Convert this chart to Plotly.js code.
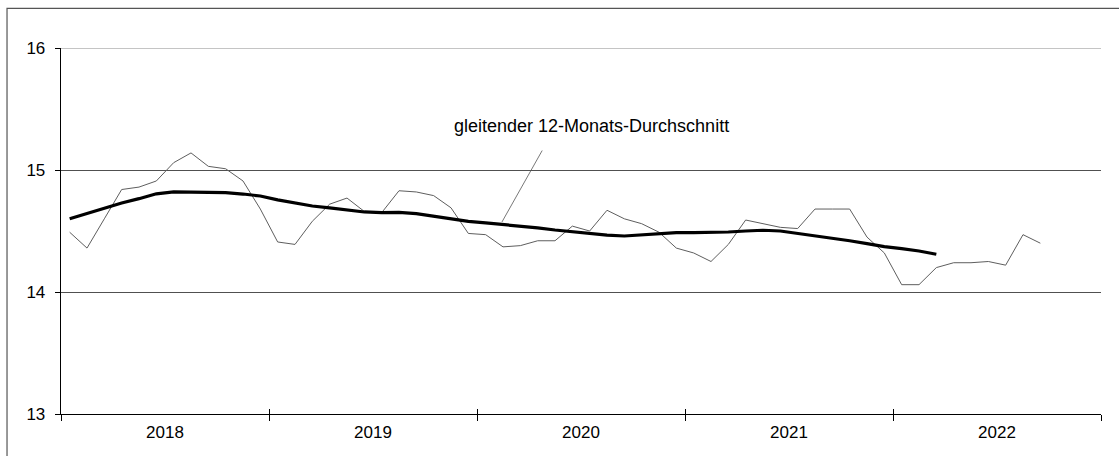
<!DOCTYPE html>
<html>
<head>
<meta charset="utf-8">
<script src="https://cdn.plot.ly/plotly-3.0.1.min.js"></script>
<style>
html,body{margin:0;padding:0;background:#fff;}
#chart{width:1119px;height:456px;}
</style>
</head>
<body>
<div id="chart"></div>
<script>
// Years shown on the category axis
const years = ["2018", "2019", "2020", "2021", "2022"];
// Monthly values Jan 2018 .. Sep 2022
const monthlyValues = [
  14.49, 14.36, 14.60, 14.84, 14.86, 14.91, 15.06, 15.14, 15.03, 15.01, 14.91, 14.68,
  14.41, 14.39, 14.58, 14.72, 14.77, 14.66, 14.65, 14.83, 14.82, 14.79, 14.69, 14.48,
  14.47, 14.37, 14.38, 14.42, 14.42, 14.54, 14.50, 14.67, 14.60, 14.56, 14.49, 14.36,
  14.32, 14.25, 14.39, 14.59, 14.56, 14.53, 14.52, 14.68, 14.68, 14.68, 14.45, 14.32,
  14.06, 14.06, 14.20, 14.24, 14.24, 14.25, 14.22, 14.47, 14.40
];
// Moving 12-month average, Jan 2018 .. Mar 2022
const movingAverage = [
  14.60, 14.645, 14.69, 14.73, 14.765, 14.805, 14.82, 14.817, 14.82, 14.814, 14.803, 14.787,
  14.755, 14.727, 14.705, 14.689, 14.672, 14.656, 14.65, 14.653, 14.642, 14.623, 14.598, 14.579,
  14.567, 14.555, 14.541, 14.525, 14.508, 14.494, 14.481, 14.467, 14.459, 14.47, 14.481, 14.486,
  14.486, 14.486, 14.492, 14.50, 14.506, 14.50, 14.481, 14.462, 14.445, 14.42, 14.396, 14.372,
  14.355, 14.336, 14.309
];
const yTicks = [13, 14, 15, 16];
const annotationText = "gleitender 12-Monats-Durchschnitt";

const monthsPerYear = 12;
const xMonthly = monthlyValues.map((_, i) => i);
const xMA = movingAverage.map((_, i) => i);
const yearCenters = years.map((_, i) => i * monthsPerYear + (monthsPerYear - 1) / 2);
const boundaries = [];
for (let i = 0; i <= years.length; i++) boundaries.push(i * monthsPerYear - 0.5);
const xRange = [-0.5, years.length * monthsPerYear - 0.5];
const yRange = [yTicks[0], yTicks[yTicks.length - 1]];

const FONT = "Liberation Sans, Arial, sans-serif";

const traces = [
  {x: xMonthly, y: monthlyValues, type: "scatter", mode: "lines",
   line: {color: "#5e5e5e", width: 1}, showlegend: false, hoverinfo: "skip"},
  {x: xMA, y: movingAverage, type: "scatter", mode: "lines",
   line: {color: "#000000", width: 3.2}, showlegend: false, hoverinfo: "skip"},
  {x: [], y: [], xaxis: "x2", yaxis: "y", type: "scatter", mode: "lines", showlegend: false},
  {x: [], y: [], xaxis: "x3", yaxis: "y", type: "scatter", mode: "lines", showlegend: false}
];

const layout = {
  width: 1119, height: 456,
  margin: {l: 61, r: 18, t: 48, b: 42, pad: 0},
  paper_bgcolor: "#ffffff", plot_bgcolor: "#ffffff",
  font: {family: FONT, size: 17, color: "#000000"},
  showlegend: false,
  xaxis: {
    range: xRange, tickvals: yearCenters, ticktext: years,
    ticks: "", showgrid: false, zeroline: false,
    showline: true, linecolor: "#000000", linewidth: 1.3,
    ticklabelstandoff: 2, tickfont: {family: FONT, size: 17, color: "#000"},
    fixedrange: true
  },
  xaxis2: {
    overlaying: "x", anchor: "y", side: "bottom", range: xRange,
    tickvals: boundaries, ticks: "outside", ticklen: 6, tickwidth: 1, tickcolor: "#000",
    showticklabels: false, showgrid: false, zeroline: false, showline: false
  },
  xaxis3: {
    overlaying: "x", anchor: "y", side: "bottom", range: xRange,
    tickvals: boundaries, ticks: "inside", ticklen: 5, tickwidth: 1, tickcolor: "#000",
    showticklabels: false, showgrid: false, zeroline: false, showline: false
  },
  yaxis: {
    range: yRange, tickvals: yTicks, ticktext: yTicks.map(String),
    ticks: "outside", ticklen: 5, tickwidth: 1, tickcolor: "#000",
    showgrid: true, gridcolor: "#505050", gridwidth: 1,
    zeroline: false, showline: true, linecolor: "#000000", linewidth: 1.3,
    ticklabelstandoff: 6, tickfont: {family: FONT, size: 17, color: "#000"},
    fixedrange: true
  },
  shapes: [
    {type: "rect", xref: "paper", yref: "paper",
     x0: -0.0519, x1: 1.2, y0: -0.3, y1: 1.108,
     line: {color: "#555555", width: 1.2}, fillcolor: "rgba(0,0,0,0)", layer: "below"},
    {type: "line", xref: "paper", yref: "y", x0: 0, x1: 1,
     y0: yRange[1], y1: yRange[1], line: {color: "#8a8a8a", width: 1.2}, layer: "below"}
  ],
  annotations: [
    {x: 30.1, y: 15.36, xref: "x", yref: "y", text: annotationText, showarrow: false,
     xanchor: "center", yanchor: "middle", font: {family: FONT, size: 18, color: "#000"}},
    {x: 24.94, y: 14.574, ax: 27.31, ay: 15.172, xref: "x", yref: "y", axref: "x", ayref: "y",
     text: "", showarrow: true, arrowhead: 0, arrowwidth: 0.8, arrowcolor: "#555555",
     standoff: 0, startstandoff: 0}
  ]
};

Plotly.newPlot("chart", traces, layout, {staticPlot: true, displayModeBar: false});
</script>
</body>
</html>
